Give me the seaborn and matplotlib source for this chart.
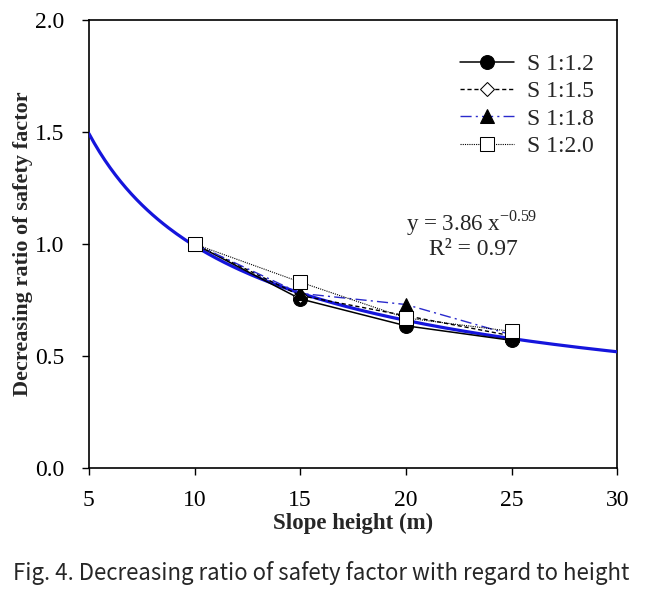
import numpy as np
import pandas as pd
import matplotlib
matplotlib.use("Agg")
import matplotlib.pyplot as plt
import seaborn as sns

heights = [10, 15, 20, 25]
s_12 = [1.00, 0.755, 0.635, 0.570]
s_15 = [1.00, 0.770, 0.680, 0.590]
s_18 = [1.00, 0.780, 0.730, 0.595]
s_20 = [1.00, 0.830, 0.670, 0.610]

fit_a = 3.86
fit_b = -0.59

sns.set_style("white")
plt.rcParams['font.family'] = ['Liberation Serif', 'DejaVu Serif']

fig = plt.figure(figsize=(6.49, 5.92), dpi=100)
ax = fig.add_axes([0.137, 0.2095, 0.814, 0.7565])

# power trend line from the fitted equation
xf = np.linspace(5, 30, 200)
sns.lineplot(x=xf, y=fit_a * xf ** fit_b, ax=ax, color="#1515dc", linewidth=2.3, zorder=3)

series = [
    ("S 1:1.2", s_12, dict(color="black", linestyle="-", marker="o", markersize=10,
                          markerfacecolor="black", markeredgecolor="black", linewidth=1.1)),
    ("S 1:1.5", s_15, dict(color="black", linestyle=(0, (3, 2)), marker="D", markersize=7,
                          markerfacecolor="white", markeredgecolor="black", linewidth=1.0)),
    ("S 1:1.8", s_18, dict(color="#2a2acc", linestyle=(0, (8, 3, 1.5, 3)), marker="^", markersize=10,
                          markerfacecolor="black", markeredgecolor="black", linewidth=1.0)),
    ("S 1:2.0", s_20, dict(color="black", linestyle=(0, (1, 1)), marker="s", markersize=10,
                          markerfacecolor="white", markeredgecolor="black", linewidth=0.8)),
]
for name, vals, kw in series:
    df = pd.DataFrame({"h": heights, "r": vals})
    sns.lineplot(data=df, x="h", y="r", ax=ax, label=name, zorder=4, **kw)

ax.set_xlim(5, 30)
ax.set_ylim(0, 2.0)
ax.set_xticks([5, 10, 15, 20, 25, 30])
ax.set_yticks([0.0, 0.5, 1.0, 1.5, 2.0])
ax.set_yticklabels(["0.0", "0.5", "1.0", "1.5", "2.0"])
ax.tick_params(axis="both", direction="out", length=5, width=1, labelsize=17,
               bottom=True, left=True, colors="black")
ax.tick_params(axis="x", pad=11)
ax.tick_params(axis="y", pad=13)
for sp in ax.spines.values():
    sp.set_color("black")
    sp.set_linewidth(1.2)

ax.set_xlabel("Slope height (m)", fontsize=16.5, fontweight="bold", labelpad=1)
ax.set_ylabel("Decreasing ratio of safety factor", fontsize=16, fontweight="bold", labelpad=1)

ax.text(0.725, 0.547, r"y = 3.86 x$^{\mathregular{-0.59}}$", transform=ax.transAxes,
        ha="center", va="center", fontsize=16.6)
ax.text(0.728, 0.487, "R² = 0.97", transform=ax.transAxes, ha="center", va="center", fontsize=17)

leg = ax.legend(loc="upper left", bbox_to_anchor=(0.7027, 0.925), frameon=False, fontsize=17,
                handlelength=2.3, handletextpad=0.55, labelspacing=0.24,
                borderaxespad=0, borderpad=0)

fig.text(0.495, 0.032, "Fig. 4. Decreasing ratio of safety factor with regard to height",
         ha="center", va="center", fontsize=16.0, family=["Noto Sans CJK KR", "DejaVu Sans"])

fig.savefig("out.png", dpi=100)
